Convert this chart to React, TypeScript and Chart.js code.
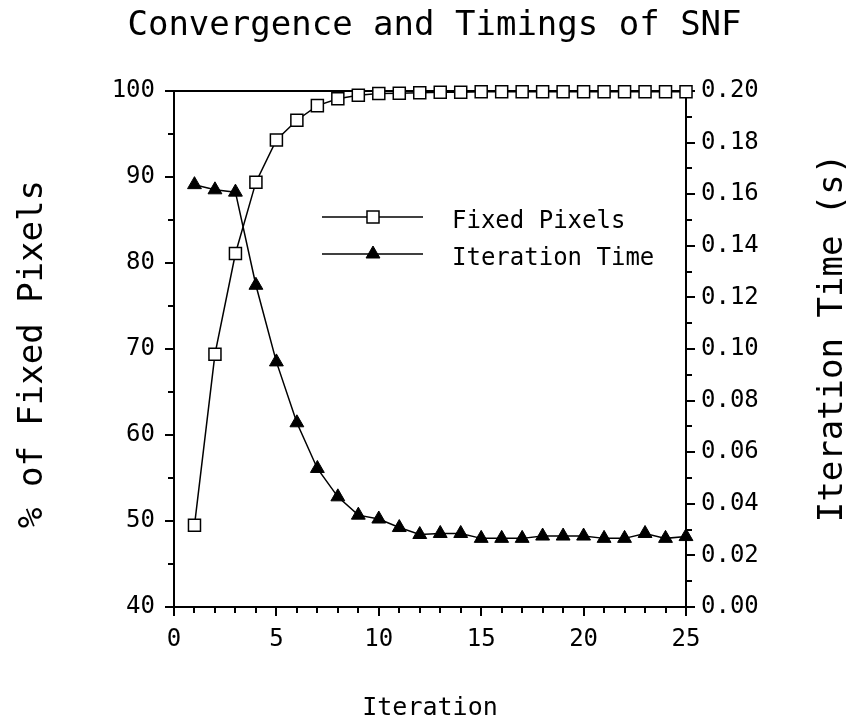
import React, { useEffect, useRef } from 'react';
import { Chart, registerables } from 'chart.js';

Chart.register(...registerables);

const iterations = [1, 2, 3, 4, 5, 6, 7, 8, 9, 10, 11, 12, 13, 14, 15, 16, 17, 18, 19, 20, 21, 22, 23, 24, 25];
const fixedPixels = [49.5, 69.4, 81.1, 89.4, 94.3, 96.6, 98.3, 99.1, 99.5, 99.7, 99.75, 99.8, 99.85, 99.85, 99.9, 99.9, 99.9, 99.9, 99.9, 99.9, 99.9, 99.9, 99.9, 99.9, 99.9];
const iterationTime = [0.1637, 0.1617, 0.1608, 0.1247, 0.095, 0.0714, 0.0537, 0.0427, 0.0356, 0.0341, 0.0308, 0.0281, 0.0285, 0.0285, 0.0266, 0.0266, 0.0266, 0.0275, 0.0275, 0.0275, 0.0266, 0.0266, 0.0285, 0.0266, 0.0273];

const xTicks = [0, 5, 10, 15, 20, 25];
const xMinorTicks = [1, 2, 3, 4, 6, 7, 8, 9, 11, 12, 13, 14, 16, 17, 18, 19, 21, 22, 23, 24];
const leftTicks = [40, 50, 60, 70, 80, 90, 100];
const leftMinorTicks = [45, 55, 65, 75, 85, 95];
const rightTicks = [0, 0.02, 0.04, 0.06, 0.08, 0.1, 0.12, 0.14, 0.16, 0.18, 0.2];
const rightMinorTicks = [0.01, 0.03, 0.05, 0.07, 0.09, 0.11, 0.13, 0.15, 0.17, 0.19];

const TITLE = 'Convergence and Timings of SNF';
const X_TITLE = 'Iteration';
const LEFT_TITLE = '% of Fixed Pixels';
const RIGHT_TITLE = 'Iteration Time (s)';
const SERIES_LABELS = ['Fixed Pixels', 'Iteration Time'];

const MONO = "'DejaVu Sans Mono', monospace";

function drawMarker(ctx: CanvasRenderingContext2D, style: string, x: number, y: number, r: number) {
  ctx.beginPath();
  if (style === 'rect') {
    const s = r * Math.SQRT1_2;
    ctx.rect(x - s, y - s, 2 * s, 2 * s);
    ctx.fillStyle = '#fff';
    ctx.fill();
    ctx.lineWidth = 1.5;
    ctx.strokeStyle = '#000';
    ctx.stroke();
  } else {
    const a = (2 * Math.PI) / 3;
    let rad = 0;
    ctx.moveTo(x + Math.sin(rad) * r, y - Math.cos(rad) * r);
    rad += a;
    ctx.lineTo(x + Math.sin(rad) * r, y - Math.cos(rad) * r);
    rad += a;
    ctx.lineTo(x + Math.sin(rad) * r, y - Math.cos(rad) * r);
    ctx.closePath();
    ctx.fillStyle = '#000';
    ctx.fill();
    ctx.lineWidth = 1;
    ctx.strokeStyle = '#000';
    ctx.stroke();
  }
}

const decorPlugin = {
  id: 'decor',
  beforeDatasetsDraw(chart: any) {
    const { ctx, chartArea } = chart;
    const x = chart.scales.x;
    const y = chart.scales.y;
    const y1 = chart.scales.y1;
    ctx.save();
    ctx.strokeStyle = '#000';
    ctx.lineWidth = 2;
    ctx.beginPath();
    ctx.moveTo(chartArea.left - 1, chartArea.top);
    ctx.lineTo(chartArea.right + 1, chartArea.top);
    ctx.stroke();
    ctx.beginPath();
    xMinorTicks.forEach((v) => {
      const px = Math.round(x.getPixelForValue(v));
      ctx.moveTo(px, chartArea.bottom);
      ctx.lineTo(px, chartArea.bottom + 6);
    });
    leftMinorTicks.forEach((v) => {
      const py = Math.round(y.getPixelForValue(v));
      ctx.moveTo(chartArea.left, py);
      ctx.lineTo(chartArea.left - 6, py);
    });
    rightMinorTicks.forEach((v) => {
      const py = Math.round(y1.getPixelForValue(v));
      ctx.moveTo(chartArea.right, py);
      ctx.lineTo(chartArea.right + 6, py);
    });
    ctx.stroke();
    ctx.restore();
  },
  afterDraw(chart: any) {
    const { ctx } = chart;
    ctx.save();
    ctx.fillStyle = '#000';
    ctx.font = `34px ${MONO}`;
    ctx.textAlign = 'center';
    ctx.textBaseline = 'alphabetic';
    // chart title
    ctx.fillText(TITLE, 434.5, 35);
    // left axis title
    ctx.save();
    ctx.translate(42, 354);
    ctx.rotate(-Math.PI / 2);
    ctx.fillText(LEFT_TITLE, 0, 0);
    ctx.restore();
    // right axis title
    ctx.save();
    ctx.translate(842, 338);
    ctx.rotate(-Math.PI / 2);
    ctx.fillText(RIGHT_TITLE, 0, 0);
    ctx.restore();

    // legend
    const rows = [217, 254];
    chart.data.datasets.forEach((ds: any, i: number) => {
      const yy = rows[i];
      ctx.beginPath();
      ctx.strokeStyle = '#000';
      ctx.lineWidth = 1.5;
      ctx.moveTo(322, yy);
      ctx.lineTo(423, yy);
      ctx.stroke();
      drawMarker(ctx, ds.pointStyle, 373, yy, ds.pointRadius);
      ctx.fillStyle = '#000';
      ctx.font = `24px ${MONO}`;
      ctx.textAlign = 'left';
      ctx.textBaseline = 'alphabetic';
      ctx.fillText(ds.label, 452, yy + 11);
    });
    ctx.restore();
  },
};

export default function App() {
  const canvasRef = useRef<HTMLCanvasElement | null>(null);

  useEffect(() => {
    const canvas = canvasRef.current;
    if (!canvas) return;
    const tickFont = { family: MONO, size: 24, weight: 'normal' as const };
    const chart = new Chart(canvas, {
      type: 'line',
      data: {
        datasets: [
          {
            label: SERIES_LABELS[0],
            data: iterations.map((it, i) => ({ x: it, y: fixedPixels[i] })),
            yAxisID: 'y',
            borderColor: '#000',
            borderWidth: 1.5,
            pointStyle: 'rect',
            pointRadius: 8.5,
            pointBackgroundColor: '#fff',
            pointBorderColor: '#000',
            pointBorderWidth: 1.5,
            tension: 0,
            clip: false as any,
          },
          {
            label: SERIES_LABELS[1],
            data: iterations.map((it, i) => ({ x: it, y: iterationTime[i] })),
            yAxisID: 'y1',
            borderColor: '#000',
            borderWidth: 1.5,
            pointStyle: 'triangle',
            pointRadius: 8,
            pointBackgroundColor: '#000',
            pointBorderColor: '#000',
            pointBorderWidth: 1,
            tension: 0,
            clip: false as any,
          },
        ],
      },
      options: {
        responsive: false,
        animation: false,
        events: [],
        layout: { padding: { top: 91, left: 0, right: 0, bottom: 0 } },
        plugins: {
          legend: { display: false },
          tooltip: { enabled: false },
          title: { display: false },
        },
        scales: {
          x: {
            type: 'linear',
            min: 0,
            max: 25,
            afterBuildTicks: (s: any) => {
              s.ticks = xTicks.map((v) => ({ value: v }));
            },
            afterFit: (s: any) => {
              s.height = 119;
            },
            ticks: { font: tickFont, color: '#000', padding: 9, maxRotation: 0, autoSkip: false },
            grid: { display: true, drawOnChartArea: false, drawTicks: true, tickLength: 9, color: '#000', lineWidth: 2 },
            border: { display: true, color: '#000', width: 2 },
            title: {
              display: true,
              text: X_TITLE,
              color: '#000',
              font: { family: MONO, size: 25, weight: 'normal', lineHeight: 1.2 },
              padding: { top: 0, bottom: 2.6 },
            },
          },
          y: {
            type: 'linear',
            position: 'left',
            min: 40,
            max: 100,
            afterBuildTicks: (s: any) => {
              s.ticks = leftTicks.map((v) => ({ value: v }));
            },
            afterFit: (s: any) => {
              s.width = 174;
            },
            ticks: { font: tickFont, color: '#000', padding: 10, autoSkip: false },
            grid: { display: true, drawOnChartArea: false, drawTicks: true, tickLength: 9, color: '#000', lineWidth: 2 },
            border: { display: true, color: '#000', width: 2 },
            title: { display: false },
          },
          y1: {
            type: 'linear',
            position: 'right',
            min: 0,
            max: 0.2,
            afterBuildTicks: (s: any) => {
              s.ticks = rightTicks.map((v) => ({ value: v }));
            },
            afterFit: (s: any) => {
              s.width = 166;
            },
            ticks: {
              font: tickFont,
              color: '#000',
              padding: 6,
              autoSkip: false,
              callback: (v: any) => Number(v).toFixed(2),
            },
            grid: { display: true, drawOnChartArea: false, drawTicks: true, tickLength: 9, color: '#000', lineWidth: 2 },
            border: { display: true, color: '#000', width: 2 },
            title: { display: false },
          },
        },
      },
      plugins: [decorPlugin],
    });
    return () => chart.destroy();
  }, []);

  return (
    <div style={{ position: 'fixed', left: 0, top: 0, width: 852, height: 726, background: '#fff' }}>
      <canvas ref={canvasRef} width={852} height={726} style={{ width: 852, height: 726, display: 'block' }} />
    </div>
  );
}
